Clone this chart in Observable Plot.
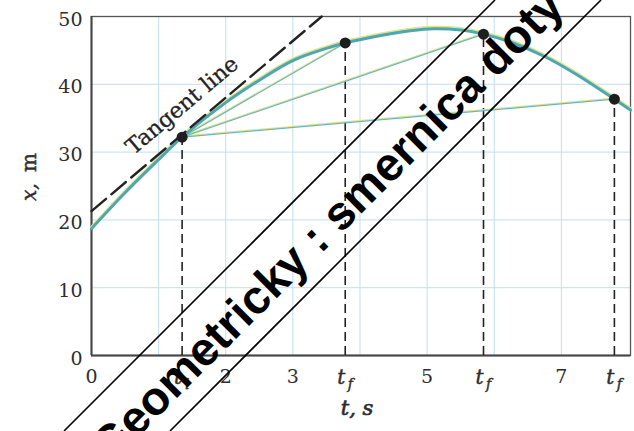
<!DOCTYPE html>
<html>
<head>
<meta charset="utf-8">
<script src="https://cdn.jsdelivr.net/npm/d3@7"></script>
<script src="https://cdn.jsdelivr.net/npm/@observablehq/plot@0.6"></script>
<style>
  html, body { margin: 0; padding: 0; background: #fff; }
  #wrap { position: relative; width: 634px; height: 431px; overflow: hidden; }
  #wrap svg.overlay { position: absolute; left: 0; top: 0; pointer-events: none; }
</style>
</head>
<body>
<div id="wrap"></div>
<script>
// Position of the object over time (t in s, x in m)
const curveT = [0, 0.5, 1, 1.35, 2, 2.5, 3, 3.5, 3.78, 4.25, 4.75, 5.1, 5.5, 5.84, 6.25, 6.75, 7.25, 7.79, 8.03];
const curveX = [18.7, 24.0, 28.9, 32.2, 37.3, 40.6, 43.5, 45.3, 46.1, 47.1, 47.9, 48.2, 48.0, 47.4, 46.2, 44.1, 41.3, 37.8, 36.2];

// Marked instants: the initial one and three final ones
const pointT = [1.35, 3.78, 5.84, 7.79];
const pointX = [32.2, 46.1, 47.4, 37.8];
const pointSub = ["i", "f", "f", "f"];

// Tangent line at the initial instant
const tangentT = [0, 3.43];
const tangentX = [21.3, 50];

// Axis ticks and grid
const xTickValues = [0, 2, 3, 5, 7];
const yTickValues = [0, 10, 20, 30, 40, 50];
const gridT = [1, 2, 3, 4, 5, 6, 7];
const gridX = [10, 20, 30, 40];

const curve = curveT.map((t, i) => ({t, x: curveX[i]}));
const points = pointT.map((t, i) => ({t, x: pointX[i], sub: pointSub[i]}));
const secants = points.slice(1).map(p => ({t1: points[0].t, x1: points[0].x, t2: p.t, x2: p.x}));
const tangent = tangentT.map((t, i) => ({t, x: tangentX[i]}));
const slope = (tangentX[1] - tangentX[0]) / (tangentT[1] - tangentT[0]);
const tangentLabel = [{t: pointT[0], x: tangentX[0] + slope * pointT[0]}];

const teal = "#4ea6b2";
const yellow = "#dbe68c";
const ink = "#2e2e2e";
// a thin stroke in the text colour gives the serif labels a heavier print look
const heavy = {fill: ink, stroke: ink, strokeWidth: 0.45};

const chart = Plot.plot({
  width: 634,
  height: 431,
  marginLeft: 91,
  marginRight: 4,
  marginTop: 16,
  marginBottom: 76,
  x: {domain: [0, 8.03]},
  y: {domain: [0, 50]},
  style: {fontFamily: "DejaVu Serif", fontSize: "19px", color: ink, background: "#fff"},
  marks: [
    Plot.ruleX(gridT, {stroke: "#c3deec", strokeWidth: 1}),
    Plot.ruleY(gridX, {stroke: "#c3deec", strokeWidth: 1}),
    Plot.frame({stroke: "#555", strokeWidth: 1.3}),
    Plot.ruleX([0], {stroke: "#444", strokeWidth: 2}),
    Plot.ruleY([0], {stroke: "#444", strokeWidth: 2}),
    Plot.axisX({ticks: xTickValues, tickSize: 0, tickPadding: 14, fontSize: 19, ...heavy}),
    Plot.axisY({ticks: yTickValues, tickSize: 0, tickPadding: 9, dy: 3, fontSize: 19, ...heavy}),
    // t_i / t_f labels under the marked instants
    Plot.text(points, {x: "t", y: () => 0, text: () => "t", dx: -4, dy: 22, fontStyle: "italic", fontSize: 20, ...heavy}),
    Plot.text(points, {x: "t", y: () => 0, text: "sub", dx: 5, dy: 29, fontStyle: "italic", fontSize: 14, ...heavy}),
    // drop lines
    Plot.ruleX(points, {x: "t", y1: () => 0, y2: "x", stroke: "#222", strokeWidth: 1.6, strokeDasharray: "9,5"}),
    // secants from the initial instant
    Plot.link(secants, {x1: "t1", y1: "x1", x2: "t2", y2: "x2", stroke: yellow, strokeWidth: 1.3, dy: -1}),
    Plot.link(secants, {x1: "t1", y1: "x1", x2: "t2", y2: "x2", stroke: "#6fb4bc", strokeWidth: 1.2}),
    // position curve
    Plot.line(curve, {x: "t", y: "x", curve: "catmull-rom", stroke: yellow, strokeWidth: 3, dy: -1.5}),
    Plot.line(curve, {x: "t", y: "x", curve: "catmull-rom", stroke: teal, strokeWidth: 3}),
    // tangent
    Plot.line(tangent, {x: "t", y: "x", stroke: "#222", strokeWidth: 2.4, strokeDasharray: "19,7"}),
    Plot.text(tangentLabel, {x: "t", y: "x", text: () => "Tangent line", dy: -29, rotate: -40, fontSize: 22, fill: "#222", stroke: "#222", strokeWidth: 0.3}),
    Plot.dot(points, {x: "t", y: "x", r: 5.5, fill: "#1e1e1e"}),
    // axis titles
    Plot.text([0], {frameAnchor: "left", text: () => "m", dx: -62, dy: -14, rotate: -90, fontSize: 20, ...heavy}),
    Plot.text([0], {frameAnchor: "left", text: () => "x,", dx: -62, dy: 15, rotate: -90, fontSize: 20, fontStyle: "italic", ...heavy}),
    Plot.text([0], {frameAnchor: "bottom", text: () => "t, s", dx: -4, dy: 59, fontSize: 21, fontStyle: "italic", ...heavy, strokeWidth: 0.7})
  ]
});

const wrap = document.getElementById("wrap");
wrap.appendChild(chart);

// Diagonal banner drawn across the figure
const ns = "http://www.w3.org/2000/svg";
const overlay = document.createElementNS(ns, "svg");
overlay.setAttribute("class", "overlay");
overlay.setAttribute("width", 634);
overlay.setAttribute("height", 431);
for (const c of [495, 601]) {
  const ln = document.createElementNS(ns, "line");
  ln.setAttribute("x1", c - 431); ln.setAttribute("y1", 431);
  ln.setAttribute("x2", c); ln.setAttribute("y2", 0);
  ln.setAttribute("stroke", "#000");
  ln.setAttribute("stroke-width", 1.6);
  overlay.appendChild(ln);
}
const banner = document.createElementNS(ns, "text");
banner.setAttribute("transform", "translate(110,465) rotate(-45)");
banner.setAttribute("font-family", "Liberation Sans, Arial, sans-serif");
banner.setAttribute("font-weight", "bold");
banner.setAttribute("font-size", 47);
banner.setAttribute("fill", "#000");
banner.textContent = "Geometricky : smernica doty";
overlay.appendChild(banner);
wrap.appendChild(overlay);
</script>
</body>
</html>
